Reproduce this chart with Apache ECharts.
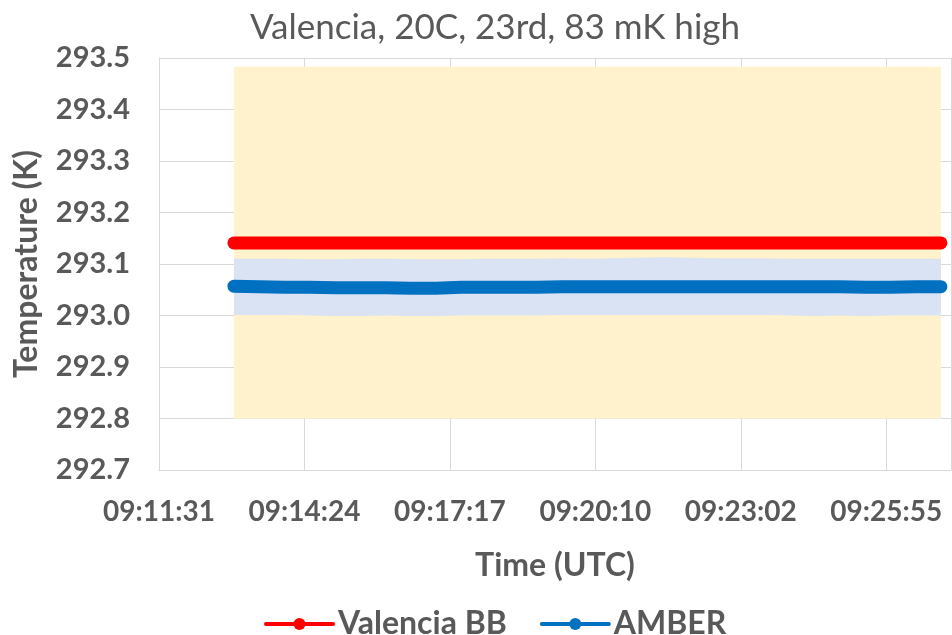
<!DOCTYPE html>
<html>
<head>
<meta charset="utf-8">
<script src="https://cdn.jsdelivr.net/npm/echarts@6/dist/echarts.min.js"></script>
<style>
html,body{margin:0;padding:0;background:#fff;}
#c{width:952px;height:635px;}
</style>
</head>
<body>
<div id="c"></div>
<script>
// Time origin of the axis: 09:11:31 UTC; values are seconds after it
const axisStart = '09:11:31';
const tickLabels = ['09:11:31','09:14:24','09:17:17','09:20:10','09:23:02','09:25:55'];
const sampleTimes = ['09:13:00','09:13:30','09:14:00','09:14:30','09:15:00','09:15:30','09:16:00','09:16:30',
  '09:17:00','09:17:30','09:18:00','09:18:30','09:19:00','09:19:30','09:20:00','09:20:30','09:21:00',
  '09:21:30','09:22:00','09:22:30','09:23:00','09:23:30','09:24:00','09:24:30','09:25:00','09:25:30',
  '09:26:00','09:26:30','09:27:00'];
const valenciaBB = [293.141,293.141,293.141,293.141,293.141,293.141,293.141,293.141,293.141,293.141,
  293.141,293.141,293.141,293.141,293.141,293.141,293.141,293.141,293.141,293.141,293.141,293.141,
  293.141,293.141,293.141,293.141,293.141,293.141,293.141];
const amber = [293.057,293.056,293.055,293.055,293.054,293.054,293.054,293.053,293.053,293.055,
  293.055,293.055,293.055,293.056,293.056,293.056,293.056,293.056,293.056,293.056,293.056,293.056,
  293.056,293.056,293.056,293.055,293.055,293.056,293.056];
const amberUpper = [293.110,293.110,293.110,293.109,293.109,293.110,293.110,293.109,293.109,293.109,
  293.110,293.110,293.110,293.111,293.110,293.111,293.112,293.113,293.112,293.111,293.111,293.111,
  293.110,293.110,293.110,293.110,293.110,293.110,293.110];
const amberLower = [293.001,293.001,293.001,293.000,292.999,292.999,293.000,292.999,292.999,293.000,
  293.000,293.000,293.000,293.001,293.001,293.001,293.001,293.001,293.001,293.001,293.001,293.001,
  293.000,292.999,293.000,292.999,293.000,293.000,293.000];
const envLowerValue = 292.8;
const envUpper = [293.483,293.483,293.483,293.483,293.483,293.483,293.483,293.483,293.483,293.483,
  293.483,293.483,293.483,293.483,293.483,293.483,293.483,293.483,293.483,293.483,293.483,293.483,
  293.483,293.483,293.483,293.483,293.483,293.483,293.483];

const TICK = 172.8; // Excel major unit 0.002 day
function secs(s){const p=s.split(':').map(Number);return p[0]*3600+p[1]*60+p[2];}
const t0 = secs(axisStart);
const xs = sampleTimes.map(s=>secs(s)-t0);
const pair = arr => arr.map((v,i)=>[xs[i], v]);

const textColor = '#595959';
const FONT = 'Lato';
const YELLOW = '#FFF2CC', LIGHTBLUE = '#DAE3F3';
const bandSeries = (name, arr, color, z) => ({name, type:'line', data:pair(arr), symbol:'none',
  lineStyle:{width:0, opacity:0}, areaStyle:{color, opacity:1, origin:envLowerValue}, silent:true, z,
  emphasis:{disabled:true}});

const chart = echarts.init(document.getElementById('c'), null, {renderer:'canvas'});
chart.setOption({
  animation:false,
  backgroundColor:'#fff',
  title:{text:'Valencia, 20C, 23rd, 83 mK high', left:490, top:5, textAlign:'center',
    textStyle:{fontFamily:FONT, fontWeight:'normal', fontSize:35, color:textColor}},
  grid:{left:159, right:1, top:58, bottom:165, containLabel:false},
  xAxis:{type:'value', min:0, max:941, interval:TICK,
    name:'Time (UTC)', nameLocation:'middle', nameGap:80,
    nameTextStyle:{fontFamily:FONT, fontWeight:'bold', fontSize:32, color:textColor},
    axisLine:{show:true, lineStyle:{color:'#D9D9D9', width:1}},
    axisTick:{show:false},
    splitLine:{show:true, lineStyle:{color:'#D9D9D9', width:1}},
    axisLabel:{margin:28, showMaxLabel:false, fontFamily:FONT, fontWeight:'bold', fontSize:28, color:textColor,
      formatter:v=>{const k=v/TICK;const r=Math.round(k);return Math.abs(k-r)<0.01 && tickLabels[r]?tickLabels[r]:'';}}
  },
  yAxis:{type:'value', min:292.7, max:293.5, interval:0.1,
    name:'Temperature (K)', nameLocation:'middle', nameGap:116, nameRotate:90,
    nameTextStyle:{fontFamily:FONT, fontWeight:'bold', fontSize:32, color:textColor},
    axisLine:{show:true, lineStyle:{color:'#D9D9D9', width:1}},
    axisTick:{show:false},
    splitLine:{show:true, lineStyle:{color:'#D9D9D9', width:1}},
    axisLabel:{margin:29, fontFamily:FONT, fontWeight:'bold', fontSize:29, color:textColor,
      formatter:v=>v.toFixed(1)}
  },
  legend:{top:603, left:259, itemGap:33, itemWidth:67, itemHeight:15,
    data:['Valencia BB','AMBER'],
    lineStyle:{width:4},
    textStyle:{fontFamily:FONT, fontWeight:'bold', fontSize:32, color:textColor}},
  series:[
    bandSeries('envBand', envUpper, YELLOW, 1),
    bandSeries('amberUpperBand', amberUpper, LIGHTBLUE, 2),
    bandSeries('amberLowerBand', amberLower, YELLOW, 2),
    {name:'Valencia BB', type:'line', data:pair(valenciaBB), symbol:'circle', symbolSize:15, showSymbol:false,
      color:'#FF0000', lineStyle:{color:'#FF0000', width:13, cap:'round', join:'round'}, z:3},
    {name:'AMBER', type:'line', data:pair(amber), symbol:'circle', symbolSize:15, showSymbol:false,
      color:'#0070C0', lineStyle:{color:'#0070C0', width:13, cap:'round', join:'round'}, z:3}
  ]
});
</script>
</body>
</html>
